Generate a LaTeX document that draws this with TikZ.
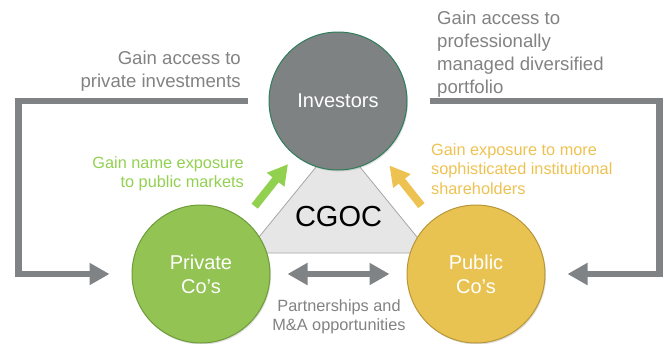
\documentclass[tikz,border=0pt]{standalone}
\usepackage{fontspec}
\setmainfont{Liberation Sans}
\usetikzlibrary{arrows.meta,shadows}
\definecolor{linegray}{HTML}{7F8385}
\definecolor{textgray}{HTML}{828282}
\definecolor{invfill}{HTML}{7F8283}
\definecolor{invline}{HTML}{2E7D5B}
\definecolor{privfill}{HTML}{92C353}
\definecolor{privline}{HTML}{6E9B3B}
\definecolor{pubfill}{HTML}{E9C352}
\definecolor{publine}{HTML}{B8963A}
\definecolor{greentxt}{HTML}{92D050}
\definecolor{yellowtxt}{HTML}{EDC251}
\definecolor{trifill}{HTML}{E6E6E6}
\definecolor{triline}{HTML}{A6A6A6}
\begin{document}
\begin{tikzpicture}[x=1pt, y=-1pt, >={Triangle[length=20pt,width=21pt]},
	circ/.style={circle, minimum size=138pt, inner sep=0pt, line width=1pt, text=white, align=center, font=\fontsize{20}{24}\selectfont, drop shadow={opacity=.25, shadow xshift=1pt, shadow yshift=-1.5pt}},
	note/.style={inner sep=0pt, font=\fontsize{16.3}{19.5}\selectfont},
	bignote/.style={inner sep=0pt, text=textgray, font=\fontsize{18.6}{22.5}\selectfont},
	fat/.style={line width=6.5pt, ->}]
	\useasboundingbox (0,0) rectangle (667,343);
	\path (246,253) coordinate (T1) (430,253) coordinate (T2) (338,140) coordinate (T3);
	\draw[fill=trifill, draw=triline, line width=.8pt] (T1)--(T2)--(T3)--cycle;
	\node[circ, fill=invfill, draw=invline] (inv) at (338,101) {Investors};
	\node[circ, fill=privfill, draw=privline] (priv) at (201,274) {Private\\Co’s};
	\node[circ, fill=pubfill, draw=publine] (pub) at (476,274) {Public\\Co’s};
	\node[inner sep=0pt, font=\fontsize{29}{30}\selectfont] (cgoc) at (338.5,217) {CGOC};
	% side notes
	\node[bignote, align=right, anchor=east] (privinv) at (241,71) {Gain access to\\private investments};
	\node[bignote, align=left, anchor=west, font=\fontsize{18.6}{23}\selectfont] (portf) at (437,54) {Gain access to\\professionally\\managed diversified\\portfolio};
	\node[note, text=greentxt, align=right, anchor=east] (namexp) at (244,174) {Gain name exposure\\to public markets};
	\node[note, text=yellowtxt, align=left, anchor=west] (instexp) at (431,169) {Gain exposure to more\\sophisticated institutional\\shareholders};
	\node[note, text=textgray, align=center] (mna) at (339,317) {Partnerships and\\M\&A opportunities};
	% arrows
	\draw[fat, linegray] ([xshift=-21pt]inv.west) -- ++(-229,0) |- ([xshift=-22pt]priv.west);
	\draw[fat, linegray] ([xshift=22pt]inv.east) -- ++(230,0) |- ([xshift=22pt]pub.east);
	\draw[fat, linegray, <->] ([xshift=17pt]priv.east) -- ([xshift=-17pt]pub.west);
	\draw[fat, greentxt, line width=8pt, shorten <=17pt, shorten >=11pt] (priv) -- (inv);
	\draw[fat, yellowtxt, line width=8pt, shorten <=18pt, shorten >=13pt] (pub) -- (inv);
\end{tikzpicture}
\end{document}
